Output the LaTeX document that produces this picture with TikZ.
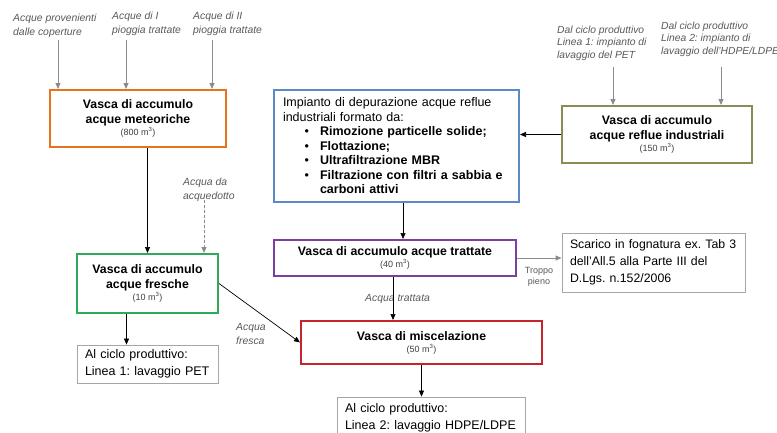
\documentclass[tikz,border=0pt]{standalone}
\usepackage{fontspec}
\setmainfont{Liberation Sans}
\usetikzlibrary{arrows.meta}
\definecolor{corange}{HTML}{E8731F}
\definecolor{cblue}{HTML}{5A8AC8}
\definecolor{colive}{HTML}{8B8B55}
\definecolor{cgreen}{HTML}{2EAA5A}
\definecolor{cpurple}{HTML}{7A3FA0}
\definecolor{cred}{HTML}{C4242C}
\definecolor{cbox}{HTML}{A6A6A6}
\definecolor{cgray}{HTML}{8C8C8C}
\definecolor{ctext}{HTML}{595959}
\definecolor{csub}{HTML}{404040}
\begin{document}
\frenchspacing
\begin{tikzpicture}[x=1pt,y=-1pt,
  box/.style={draw, line width=2pt, fill=white, inner sep=0pt, align=center,
    font=\fontsize{12.3}{15}\selectfont\bfseries},
  graybox/.style={draw=cbox, line width=0.8pt, fill=white, inner xsep=8pt, inner ysep=0pt,
    align=left, font=\fontsize{12.5}{17}\selectfont\frenchspacing},
  arr/.style={-{Triangle[length=6pt,width=5pt]}, line width=0.7pt},
  garr/.style={arr, draw=cgray, fill=cgray, line width=1pt},
  lbl/.style={font=\fontsize{10.4}{14}\selectfont\itshape, text=ctext, align=left, inner sep=0pt, anchor=north west},
  lblr/.style={lbl, font=\fontsize{10.3}{12.2}\selectfont\itshape},
  sub/.style={font=\fontsize{9}{11}\selectfont\mdseries, text=csub}]
\useasboundingbox (0,0) rectangle (777,432);
\clip (0,0) rectangle (777,432);

% boxes
\node[box, draw=corange, minimum width=176pt, minimum height=57pt] (met) at (138,118.5)
  {Vasca di accumulo\\acque meteoriche\\[-3pt]{\fontsize{9}{11}\selectfont\mdseries\color{csub}(800 m\textsuperscript{3})}};
\node[box, draw=cblue, minimum width=245pt, minimum height=112pt, text width=227pt, inner xsep=9pt,
  align=left, font=\fontsize{12.5}{14.5}\selectfont] (dep) at (396.5,146)
  {Impianto di depurazione acque reflue\\
   industriali formato da:\\
   \makebox[37pt][r]{\textbullet\hspace{11pt}}\textbf{Rimozione particelle solide;}\\
   \makebox[37pt][r]{\textbullet\hspace{11pt}}\textbf{Flottazione;}\\
   \makebox[37pt][r]{\textbullet\hspace{11pt}}\textbf{Ultrafiltrazione MBR}\\
   \makebox[37pt][r]{\textbullet\hspace{11pt}}\textbf{Filtrazione con filtri a sabbia e}\\
   \hspace*{37pt}\textbf{carboni attivi}};
\node[box, draw=colive, minimum width=190pt, minimum height=57pt] (ref) at (657,134.5)
  {Vasca di accumulo\\acque reflue industriali\\[-3pt]{\fontsize{9}{11}\selectfont\mdseries\color{csub}(150 m\textsuperscript{3})}};
\node[box, draw=cgreen, minimum width=141pt, minimum height=59pt] (fre) at (147.5,283.5)
  {Vasca di accumulo\\acque fresche\\[-3pt]{\fontsize{9}{11}\selectfont\mdseries\color{csub}(10 m\textsuperscript{3})}};
\node[graybox, minimum width=141pt, minimum height=38pt, text width=125pt] (l1) at (147.5,364)
  {\mbox{Al ciclo produttivo:}\\\mbox{Linea 1: lavaggio PET}};
\node[box, draw=cpurple, minimum width=242pt, minimum height=36pt] (tra) at (395,258)
  {Vasca di accumulo acque trattate\\[-3pt]{\fontsize{9}{11}\selectfont\mdseries\color{csub}(40 m\textsuperscript{3})}};
\node[box, draw=cred, minimum width=241pt, minimum height=43pt] (mix) at (421.5,342.5)
  {Vasca di miscelazione\\[-3pt]{\fontsize{9}{11}\selectfont\mdseries\color{csub}(50 m\textsuperscript{3})}};
\node[graybox, minimum width=188pt, minimum height=42pt, text width=172pt] (l2) at (431,418)
  {\mbox{Al ciclo produttivo:}\\\mbox{Linea 2: lavaggio HDPE/LDPE}};
\node[graybox, minimum width=183pt, minimum height=59pt, text width=167pt,
  font=\fontsize{12.3}{17}\selectfont\frenchspacing] (sca) at (653.5,262.5)
  {\mbox{Scarico in fognatura ex. Tab 3}\\\mbox{dell'All.5 alla Parte III del}\\\mbox{D.Lgs. n.152/2006}};

% labels
\node[lbl] (t1) at (13,14) {Acque provenienti\\dalle coperture};
\node[lbl] (t2) at (112,12) {Acque di I\\pioggia trattate};
\node[lbl] (t3) at (193,12) {Acque di II\\pioggia trattate};
\node[lblr] (t4) at (557,26) {Dal ciclo produttivo\\Linea 1: impianto di\\lavaggio del PET};
\node[lblr] (t5) at (661,22) {Dal ciclo produttivo\\Linea 2: impianto di\\lavaggio dell'HDPE/LDPE};
\node[lbl] (t6) at (183,178) {Acqua da\\acquedotto};
\node[lbl] (t7) at (236,323) {Acqua\\fresca};
\node[lbl] (t8) at (365,294) {Acqua trattata};
\node[font=\fontsize{9}{11}\selectfont, text=ctext, align=center, inner sep=0pt, anchor=north] (t9) at (539,267) {Troppo\\pieno};

% free ends
\coordinate (s1) at (58,40);
\coordinate (s2) at (126,40);
\coordinate (s3) at (212,40);
\coordinate (s4) at (613,67);
\coordinate (s5) at (721,67);
\coordinate (s6) at (204,200);

% gray input arrows
\draw[garr] (s1) -- (s1 |- met.north);
\draw[garr] (s2) -- (s2 |- met.north);
\draw[garr] (s3) -- (s3 |- met.north);
\draw[garr] (s4) -- (s4 |- ref.north);
\draw[garr] (s5) -- (s5 |- ref.north);
\draw[garr, dashed, dash pattern=on 3pt off 2pt] (s6) -- (s6 |- fre.north);

% black connectors
\draw[arr] (fre.north |- met.south) -- (fre.north);
\draw[arr] ([xshift=-21pt]fre.south) -- ([xshift=-21pt]l1.north);
\draw[arr] (fre.east) -- (mix.west);
\draw[arr] ([xshift=6.5pt]dep.south) -- ([xshift=6.5pt]dep.south |- tra.north);
\draw[arr] ([xshift=-2pt]tra.south) -- ([xshift=-2pt]tra.south |- mix.north);
\draw[arr] (mix.south) -- (mix.south |- l2.north);
\draw[arr] (ref.west) -- (dep.east |- ref.west);
\draw[garr] (tra.east) -- (sca.west |- tra.east);
\end{tikzpicture}
\end{document}
